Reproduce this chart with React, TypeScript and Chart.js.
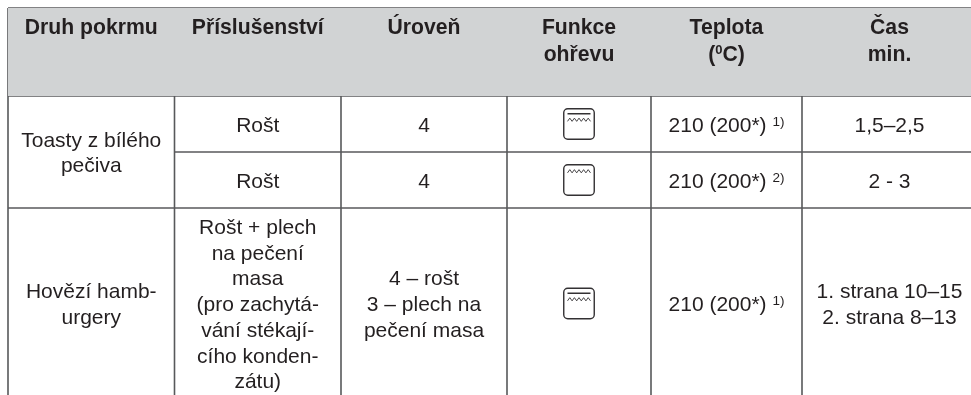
import React, { useEffect, useRef } from "react";
import { Chart, registerables } from "chart.js";

Chart.register(...registerables);

// Table content
const headers: string[][] = [
  ["Druh pokrmu"],
  ["Příslušenství"],
  ["Úroveň"],
  ["Funkce", "ohřevu"],
  ["Teplota", "(^0^C)"],
  ["Čas", "min."],
];
const dishes: string[][] = [["Toasty z bílého", "pečiva"], ["Hovězí hamb-", "urgery"]];
const accessories: string[][] = [
  ["Rošt"],
  ["Rošt"],
  ["Rošt + plech", "na pečení", "masa", "(pro zachytá-", "vání stékají-", "cího konden-", "zátu)"],
];
const levels: string[][] = [["4"], ["4"], ["4 – rošt", "3 – plech na", "pečení masa"]];
const heatIcons: boolean[] = [true, false, true];
const temperatures: string[][] = [["210 (200*) ^1)^"], ["210 (200*) ^2)^"], ["210 (200*) ^1)^"]];
const times: string[][] = [["1,5–2,5"], ["2 - 3"], ["1. strana 10–15", "2. strana 8–13"]];

// Table geometry, in scale units
const colEdges = [8, 174.5, 341, 507, 651, 802, 977];
const rowEdges = [8, 96, 152, 208, 399];
const W = 971;
const H = 395;

const LINE = "#58595b";
const TEXT = "#231f20";
const FILL = "#d1d3d4";
const FAMILY = '"Liberation Sans", Arial, sans-serif';
const SIZE = 21;
const HEAD_SIZE = 21.2;
const LEAD = 25.7;

function seg(x1: number, y1: number, x2: number, y2: number) {
  return {
    type: "scatter" as const,
    data: [{ x: x1, y: y1 }, { x: x2, y: y2 }],
    showLine: true,
    borderColor: LINE,
    borderWidth: 1.6,
    pointRadius: 0,
    fill: false,
  };
}

function drawRuns(ctx: CanvasRenderingContext2D, s: string, cx: number, y: number, bold: boolean, sup: number, rise: number) {
  const parts = s.split("^");
  const fonts = parts.map((_, i) =>
    `${bold ? "bold " : ""}${i % 2 ? sup : bold ? HEAD_SIZE : SIZE}px ${FAMILY}`
  );
  let w = 0;
  parts.forEach((p, i) => {
    ctx.font = fonts[i];
    w += ctx.measureText(p).width;
  });
  let x = cx - w / 2;
  ctx.textAlign = "left";
  ctx.textBaseline = "alphabetic";
  parts.forEach((p, i) => {
    ctx.font = fonts[i];
    ctx.fillText(p, x, i % 2 ? y - rise : y);
    x += ctx.measureText(p).width;
  });
}

const tablePlugin = {
  id: "tableContent",
  afterDatasetsDraw(chart: any) {
    const { ctx, scales } = chart;
    const px = (v: number) => scales.x.getPixelForValue(v);
    const py = (v: number) => scales.y.getPixelForValue(v);
    const cxOf = (c: number) => (px(colEdges[c]) + px(colEdges[c + 1])) / 2;
    ctx.save();
    ctx.fillStyle = TEXT;

    const block = (lines: string[], c: number, top: number, bottom: number) => {
      const mid = (py(top) + py(bottom)) / 2 + 7.6;
      lines.forEach((l, i) => {
        drawRuns(ctx, l, cxOf(c), mid + (i - (lines.length - 1) / 2) * LEAD, false, 13.5, 6);
      });
    };

    headers.forEach((lines, c) => {
      lines.forEach((l, i) => drawRuns(ctx, l, cxOf(c), py(rowEdges[0]) + 26 + i * 26.5, true, 13, 7));
    });

    block(dishes[0], 0, rowEdges[1], rowEdges[3]);
    block(dishes[1], 0, rowEdges[3], rowEdges[4]);
    for (let r = 0; r < 3; r++) {
      const t = rowEdges[r + 1];
      const b = rowEdges[r + 2];
      block(accessories[r], 1, t, b);
      block(levels[r], 2, t, b);
      block(temperatures[r], 4, t, b);
      block(times[r], 5, t, b);

      // heating-function icon
      const cx = cxOf(3);
      const cy = (py(t) + py(b)) / 2;
      const s = 30.5;
      ctx.strokeStyle = "#333133";
      ctx.lineWidth = 1.4;
      ctx.beginPath();
      ctx.roundRect(cx - s / 2, cy - s / 2, s, s, 4);
      ctx.stroke();
      const hasBar = heatIcons[r];
      if (hasBar) {
        ctx.lineWidth = 1.5;
        ctx.beginPath();
        ctx.moveTo(cx - 11.5, cy - s / 2 + 5);
        ctx.lineTo(cx + 11.5, cy - s / 2 + 5);
        ctx.stroke();
      }
      const zy = cy - s / 2 + (hasBar ? 11 : 6.5);
      ctx.lineWidth = 0.9;
      ctx.beginPath();
      for (let i = 0; i <= 10; i++) {
        const zx = cx - 11.5 + i * 2.3;
        const zz = zy + (i % 2 ? -1.6 : 1.6);
        if (i === 0) ctx.moveTo(zx, zz);
        else ctx.lineTo(zx, zz);
      }
      ctx.stroke();
    }
    ctx.restore();
  },
};

export default function App() {
  const ref = useRef<HTMLCanvasElement>(null);
  useEffect(() => {
    const prevMargin = document.body.style.margin;
    document.body.style.margin = "0";
    const bottom = H;
    const right = W;
    const datasets: any[] = [
      {
        type: "scatter",
        data: [{ x: colEdges[0], y: rowEdges[0] }, { x: right, y: rowEdges[0] }],
        showLine: true,
        borderWidth: 0,
        pointRadius: 0,
        backgroundColor: FILL,
        fill: { value: rowEdges[1] },
      },
      seg(colEdges[0], rowEdges[0], right, rowEdges[0]),
      seg(colEdges[0], rowEdges[1], right, rowEdges[1]),
      seg(colEdges[1], rowEdges[2], right, rowEdges[2]),
      seg(colEdges[0], rowEdges[3], right, rowEdges[3]),
      ...colEdges.slice(0, 6).map((x) => seg(x, rowEdges[0], x, bottom)),
    ];
    const chart = new Chart(ref.current!, {
      type: "scatter",
      data: { datasets },
      plugins: [tablePlugin],
      options: {
        animation: false,
        responsive: false,
        devicePixelRatio: 1,
        layout: { padding: 0 },
        plugins: { legend: { display: false }, tooltip: { enabled: false } },
        scales: {
          x: { type: "linear", min: 0, max: W, display: false },
          y: { type: "linear", min: 0, max: H, reverse: true, display: false },
        },
      },
    } as any);
    return () => {
      chart.destroy();
      document.body.style.margin = prevMargin;
    };
  }, []);
  return <canvas ref={ref} width={W} height={H} style={{ display: "block", filter: "blur(0.3px)" }} />;
}
